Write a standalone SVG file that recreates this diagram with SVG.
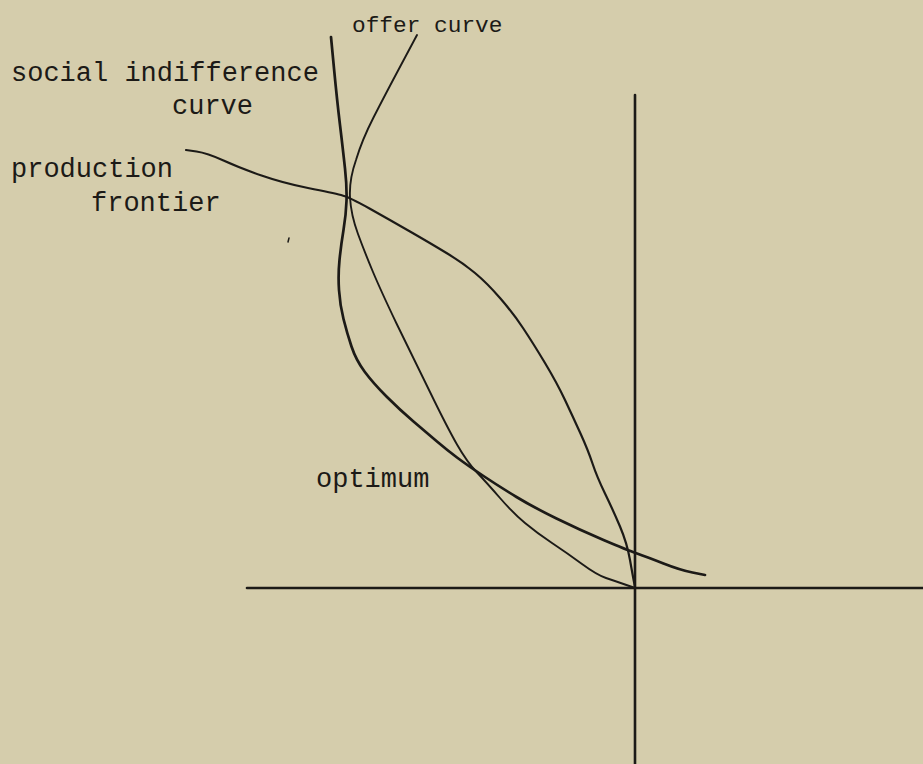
<svg xmlns="http://www.w3.org/2000/svg" width="923" height="764" viewBox="0 0 923 764">
<style>
.lbl{font-family:"Liberation Mono","DejaVu Sans Mono",monospace;font-size:27px;fill:#1c1a17}
.crv{fill:none;stroke:#1c1a17;stroke-linecap:round;stroke-linejoin:round}
</style>
<rect width="923" height="764" fill="#d5cdac"/>
<g id="axes">
<line class="crv" x1="635" y1="95" x2="635" y2="764" stroke-width="2.6"/>
<line class="crv" x1="247" y1="588" x2="923" y2="588" stroke-width="2.6"/>
</g>
<g id="connectors">
<path id="production-frontier" class="crv" stroke-width="2.2" d="M186,150 L196.5,151.5 Q207,153 223.5,160.5 Q240,168 261.5,175.5 Q283,183 308,188 Q333,193 341,195 Q349,197 369.5,208.5 Q390,220 410,231.5 Q430,243 446.5,253 Q463,263 475,273 Q487,283 500,298 Q513,313 523,328 Q533,343 545,363 Q557,383 565,400 Q573,417 580.5,433.5 Q588,450 592.5,463.5 Q597,477 605,493.5 Q613,510 620,526.5 Q627,543 630,560 Q633,577 634,582 L635,587"/>
<path id="offer-curve" class="crv" stroke-width="1.9" d="M417,35 L401,65 Q385,95 373.5,117.5 Q362,140 356,160 Q349,180 350,197.5 Q351,215 358,234 Q365,253 373,272 Q381,291 396.5,323.5 Q413,357 430,392 Q447,427 457,444.5 Q467,462 477,472.5 Q487,483 500,498 Q513,513 525,523 Q537,533 552,543 Q567,553 582,564 Q597,575 606,578 Q615,581 625,584.5 L635,588"/>
<path id="social-indifference-curve" class="crv" stroke-width="2.7" d="M331,37 L334,68.5 Q337,100 340,125 Q343,150 345,168.5 Q347,187 346.5,201 Q346,215 343.5,230 Q341,245 339.5,260 Q338,275 339,290 Q340,305 343.5,319 Q347,333 351.5,346.5 Q356,360 364.5,371.5 Q373,383 386.5,396.5 Q400,410 413.5,421.5 Q427,433 437,441.5 Q447,450 457,457.5 Q467,465 483.5,476 Q500,487 516.5,497 Q533,507 556.5,518.5 Q580,530 603.5,540 Q627,550 637,553.5 Q647,557 663.5,563.5 Q680,570 692.5,572.5 L705,575"/>
<path class="crv" stroke-width="1.5" d="M289,238 L288,242"/>
</g>
<g id="label-offer-curve"><text class="lbl" x="352" y="32" style="font-size:22.8px">offer curve</text></g>
<g id="label-social-indifference-curve">
<text class="lbl" x="11" y="81">social indifference</text>
<text class="lbl" x="172" y="114">curve</text>
</g>
<g id="label-production-frontier">
<text class="lbl" x="11" y="177">production</text>
<text class="lbl" x="91" y="211">frontier</text>
</g>
<g id="label-optimum"><text class="lbl" x="316" y="487">optimum</text></g>
</svg>
